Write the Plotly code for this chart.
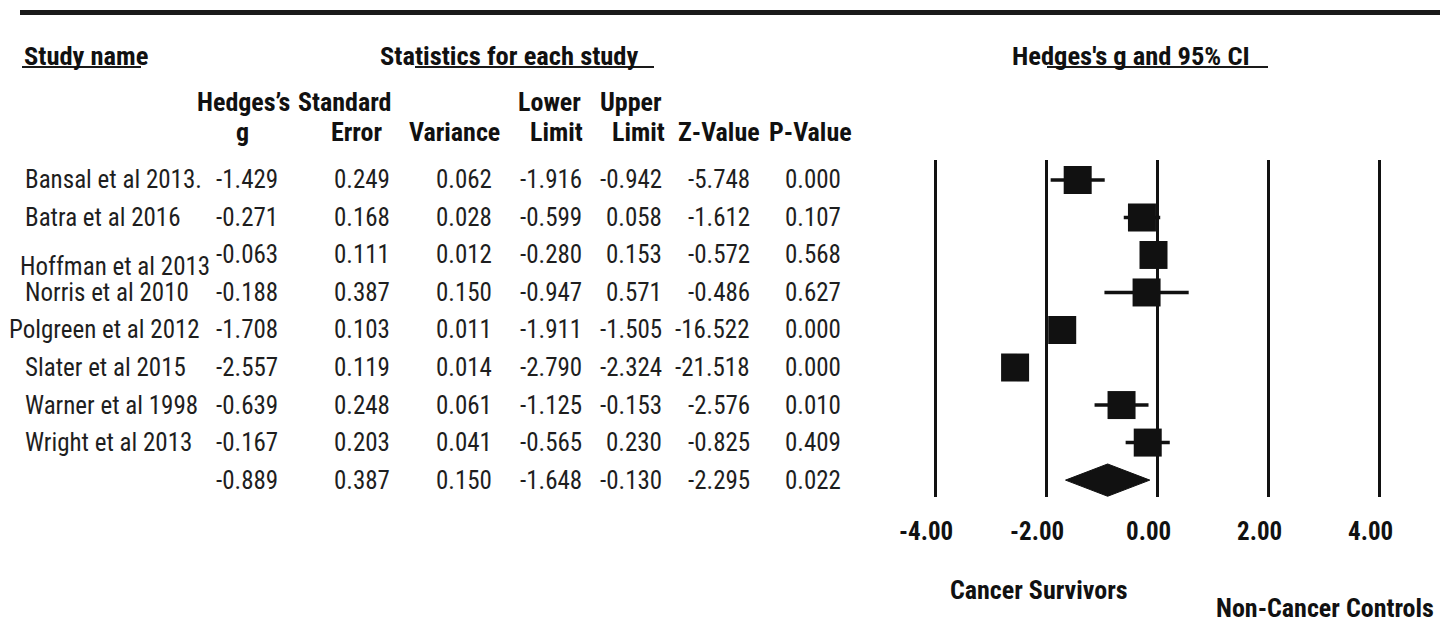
import plotly.graph_objects as go

# ---- data ----
studies = ["Bansal et al 2013.", "Batra et al 2016", "Hoffman et al 2013", "Norris et al 2010",
           "Polgreen et al 2012", "Slater et al 2015", "Warner et al 1998", "Wright et al 2013"]
hedges_g = [-1.429, -0.271, -0.063, -0.188, -1.708, -2.557, -0.639, -0.167]
std_err = [0.249, 0.168, 0.111, 0.387, 0.103, 0.119, 0.248, 0.203]
variance = [0.062, 0.028, 0.012, 0.150, 0.011, 0.014, 0.061, 0.041]
lower = [-1.916, -0.599, -0.280, -0.947, -1.911, -2.790, -1.125, -0.565]
upper = [-0.942, 0.058, 0.153, 0.571, -1.505, -2.324, -0.153, 0.230]
z_value = [-5.748, -1.612, -0.572, -0.486, -16.522, -21.518, -2.576, -0.825]
p_value = [0.000, 0.107, 0.568, 0.627, 0.000, 0.000, 0.010, 0.409]

# summary (random effects) row
summary = dict(g=-0.889, se=0.387, var=0.150, lo=-1.648, hi=-0.130, z=-2.295, p=0.022)

tick_vals = [-4, -2, 0, 2, 4]
tick_labels = ["-4.00", "-2.00", "0.00", "2.00", "4.00"]

# ---- layout helpers (pixels of a 1440x627 canvas) ----
W, H = 1440, 627
FONT = "Roboto Condensed, Liberation Sans Narrow, Liberation Sans, sans-serif"
TXT = "#1e1e1e"
BODY = 25

def px(x):
    return x / W

def py(y):
    return 1 - y / H

fig = go.Figure()

rows = list(range(len(studies)))
sum_row = len(studies)

# CI lines + squares
fig.add_trace(go.Scatter(
    x=hedges_g, y=rows, mode="markers",
    marker=dict(symbol="square", size=28, color="#111"),
    error_x=dict(type="data", symmetric=False,
                 array=[u - g for u, g in zip(upper, hedges_g)],
                 arrayminus=[g - l for g, l in zip(hedges_g, lower)],
                 width=0, thickness=3.5, color="#111"),
    hoverinfo="skip"))

# summary diamond
dh = 0.43
fig.add_trace(go.Scatter(
    x=[summary["lo"], summary["g"], summary["hi"], summary["g"], summary["lo"]],
    y=[sum_row, sum_row - dh, sum_row, sum_row + dh, sum_row],
    mode="lines", fill="toself", fillcolor="#111",
    line=dict(color="#111", width=1), hoverinfo="skip"))

ann = []

def txt(x, y, s, anchor="right", bold=False, size=BODY, yref="y"):
    ann.append(dict(x=px(x), y=y if yref == "y" else py(y), xref="paper", yref=yref,
                    text=s, showarrow=False, xanchor=anchor, yanchor="middle",
                    font=dict(family=FONT, size=size, color=TXT if not bold else "#111",
                              weight="bold" if bold else "normal")))

# headings
txt(22, 55, "Study name", anchor="left", bold=True, size=26.5, yref="paper")
txt(509, 55, "Statistics for each study", anchor="center", bold=True, size=26.5, yref="paper")
txt(1131, 55, "Hedges's g and 95% CI", anchor="center", bold=True, size=26.5, yref="paper")

# column headers
HS = 26
txt(243, 102, "Hedges’s", anchor="center", bold=True, size=HS, yref="paper")
txt(393, 102, "Standard", bold=True, size=HS, yref="paper")
txt(583, 102, "Lower", bold=True, size=HS, yref="paper")
txt(664, 102, "Upper", bold=True, size=HS, yref="paper")
txt(242, 132, "g", anchor="center", bold=True, size=HS, yref="paper")
txt(384, 132, "Error", bold=True, size=HS, yref="paper")
txt(502, 132, "Variance", bold=True, size=HS, yref="paper")
txt(585, 132, "Limit", bold=True, size=HS, yref="paper")
txt(667, 132, "Limit", bold=True, size=HS, yref="paper")
txt(762, 132, "Z-Value", bold=True, size=HS, yref="paper")
txt(854, 132, "P-Value", bold=True, size=HS, yref="paper")

# right edges of number columns
col_right = [280, 392, 494, 584, 664, 752, 843]
name_nudge = {"Hoffman et al 2013": (-5, 0.3), "Polgreen et al 2012": (-16, 0)}

for i, name in enumerate(studies):
    dx, dy = name_nudge.get(name, (0, 0))
    txt(23 + dx, i + dy, name, anchor="left")
    vals = [hedges_g[i], std_err[i], variance[i], lower[i], upper[i], z_value[i], p_value[i]]
    for xr, v in zip(col_right, vals):
        txt(xr, i, f"{v:.3f}")

svals = [summary[k] for k in ["g", "se", "var", "lo", "hi", "z", "p"]]
for xr, v in zip(col_right, svals):
    txt(xr, sum_row, f"{v:.3f}")

# axis tick labels (sit slightly left of their grid lines in the original)
for v, lab in zip(tick_vals, tick_labels):
    ann.append(dict(x=v, y=py(531), xref="x", yref="paper", text=lab, showarrow=False,
                    xanchor="center", yanchor="middle", xshift=-9,
                    font=dict(family=FONT, size=25, color="#111", weight="bold")))

# bottom labels
txt(1039, 590, "Cancer Survivors", anchor="center", bold=True, size=26, yref="paper")
txt(1325, 608, "Non-Cancer Controls", anchor="center", bold=True, size=26, yref="paper")

shapes = [
    dict(type="line", xref="paper", yref="paper", x0=px(20), x1=1, y0=py(12.5), y1=py(12.5),
         line=dict(color="#1a1a1a", width=5)),
    dict(type="line", xref="paper", yref="paper", x0=px(22), x1=px(141), y0=py(67), y1=py(67),
         line=dict(color="#1a1a1a", width=1.8)),
    dict(type="line", xref="paper", yref="paper", x0=px(415), x1=px(654), y0=py(67), y1=py(67),
         line=dict(color="#1a1a1a", width=1.8)),
    dict(type="line", xref="paper", yref="paper", x0=px(1047), x1=px(1268), y0=py(67), y1=py(67),
         line=dict(color="#1a1a1a", width=1.8)),
]

fig.update_layout(
    width=W, height=H, margin=dict(l=0, r=0, t=0, b=0),
    plot_bgcolor="white", paper_bgcolor="white", showlegend=False,
    annotations=ann, shapes=shapes,
    xaxis=dict(domain=[px(907.25), px(1406.75)], range=[-4.5, 4.5],
               tickvals=tick_vals, showticklabels=False,
               showgrid=True, gridcolor="#111", gridwidth=2.5,
               zeroline=False, showline=False, ticks=""),
    yaxis=dict(domain=[py(497), py(160)], range=[8.45, -0.53],
               showgrid=False, zeroline=False, showticklabels=False, ticks=""),
)

fig.write_html("out.html", config={"displayModeBar": False},
               post_script="document.body.style.margin='0';")
